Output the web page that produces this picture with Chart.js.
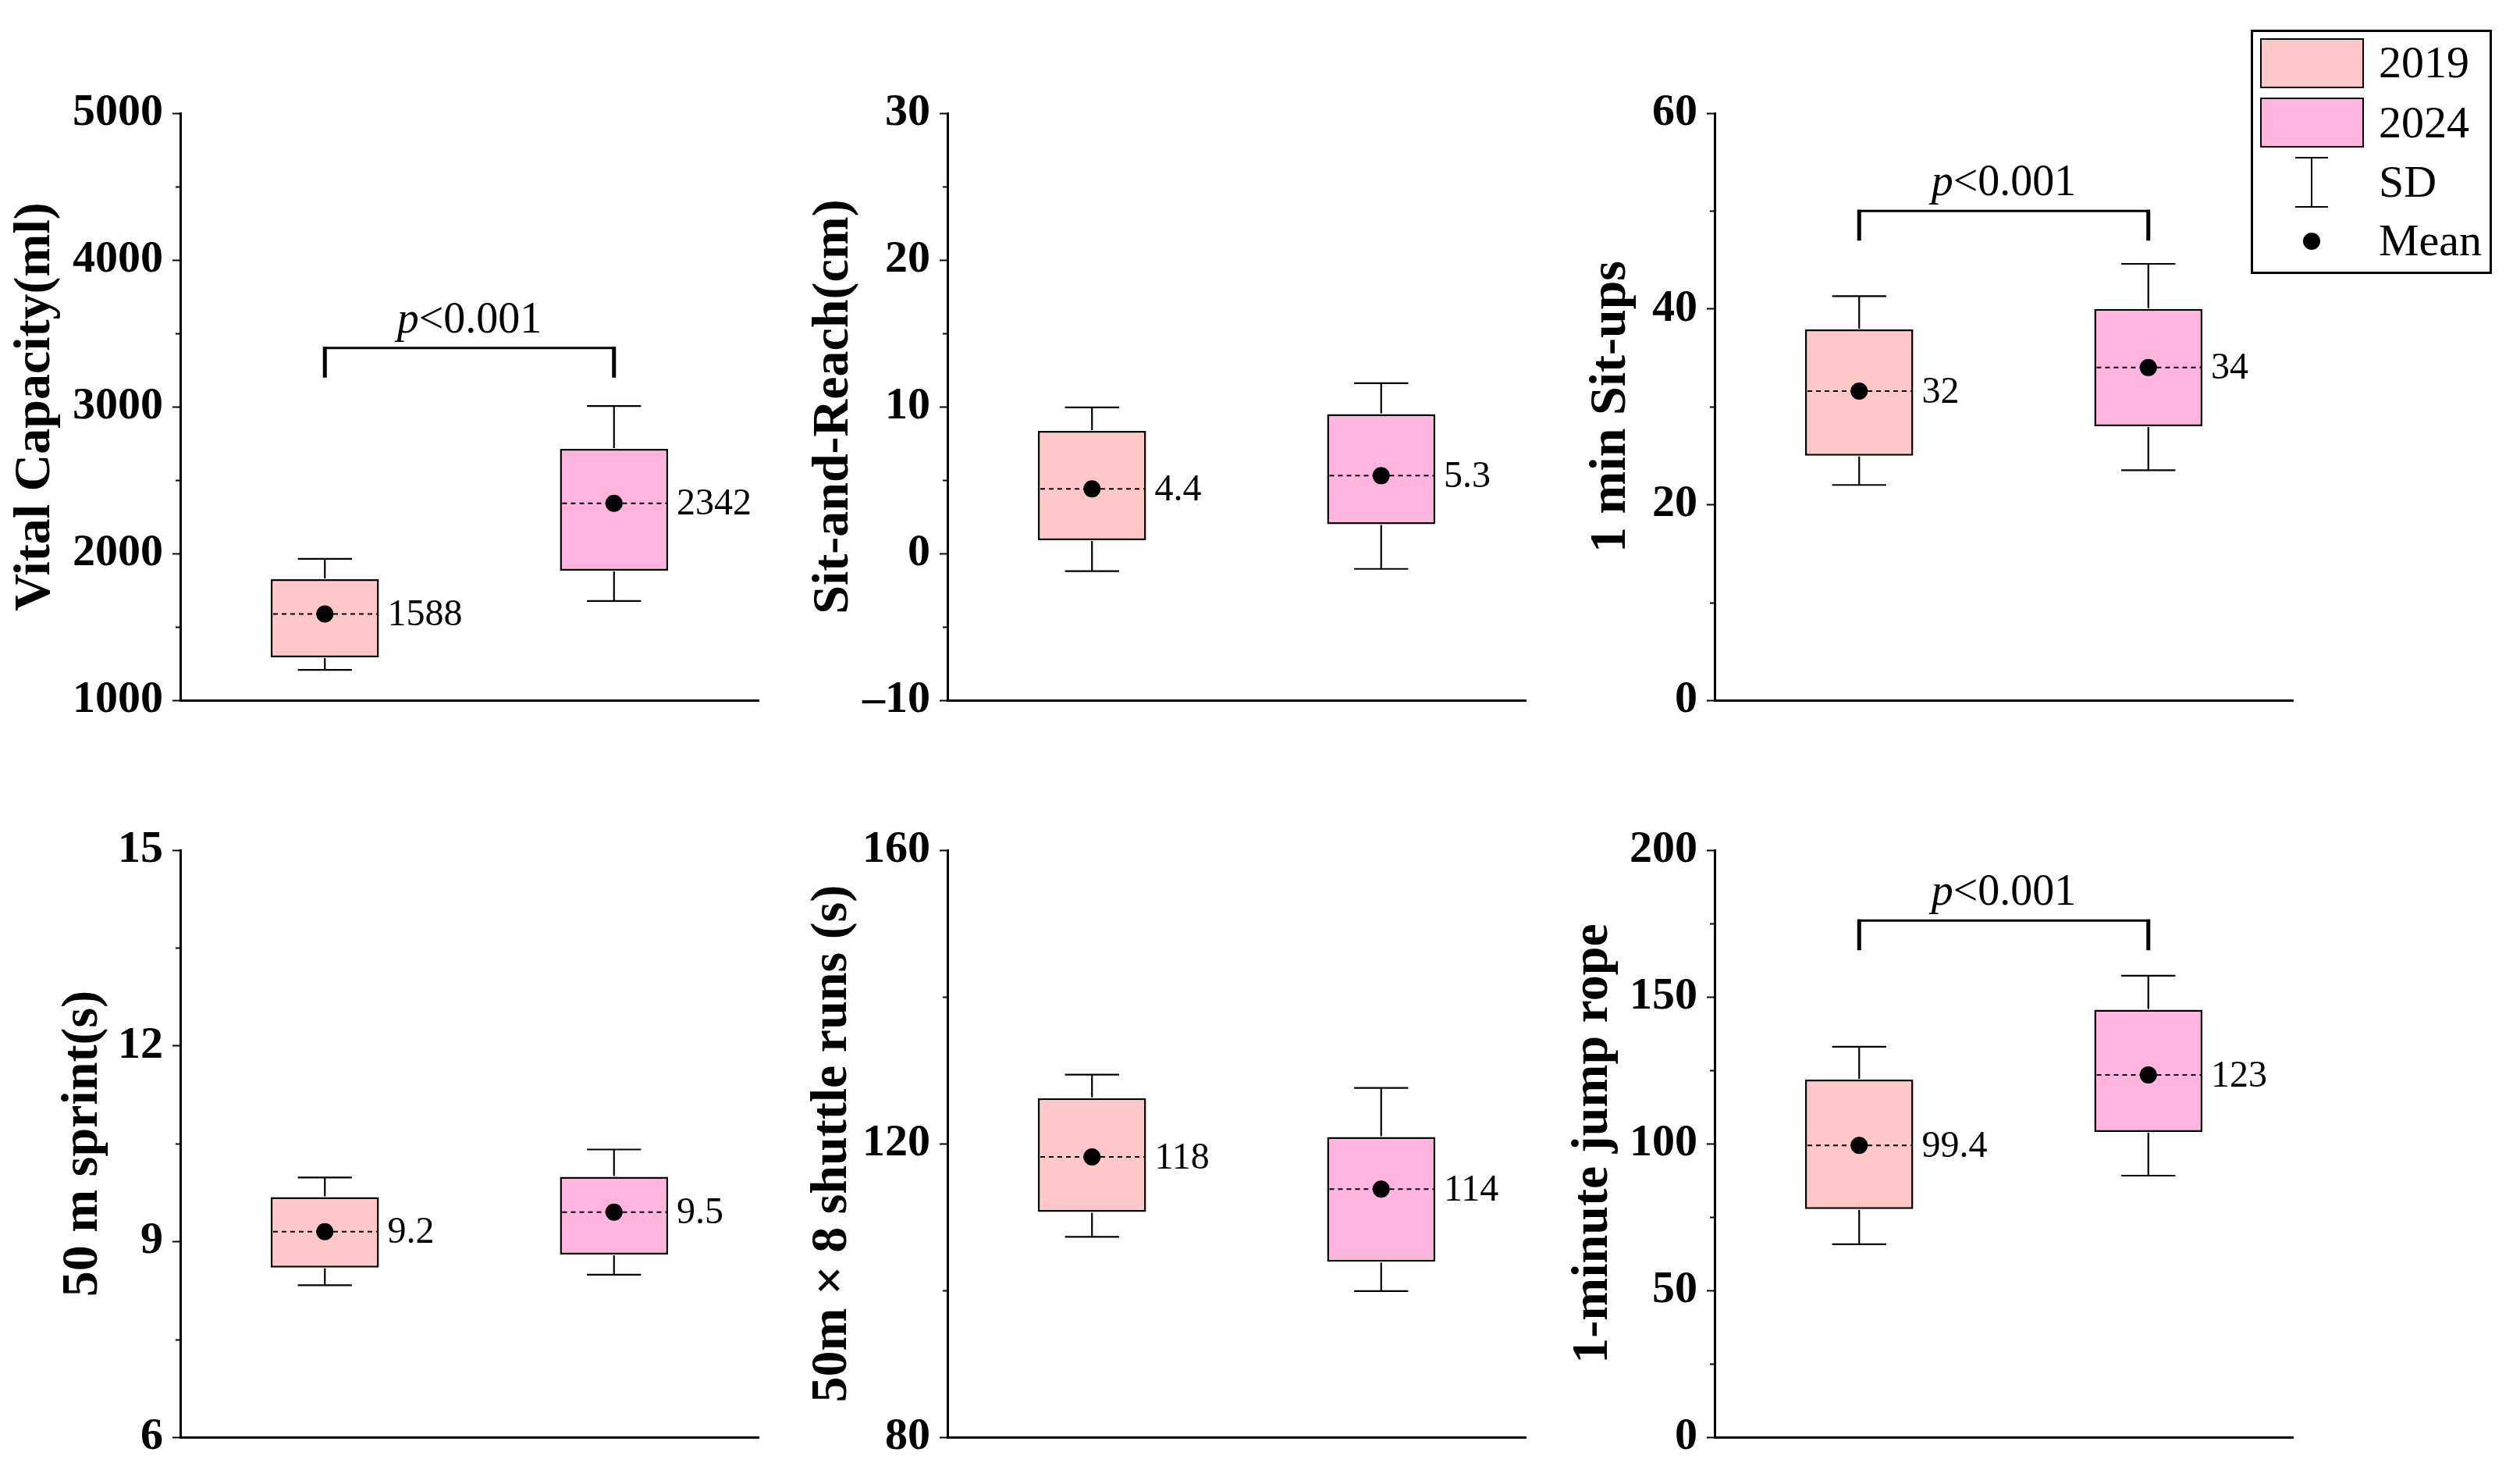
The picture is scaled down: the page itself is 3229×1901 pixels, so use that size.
<!DOCTYPE html>
<html>
<head>
<meta charset="utf-8">
<script src="https://cdn.jsdelivr.net/npm/chart.js@4.4.0/dist/chart.umd.min.js"></script>
<style>
    html, body { margin: 0; padding: 0; background: #fff; }
    body { width: 3229px; height: 1901px; position: relative; overflow: hidden; font-family: "Liberation Serif", "Times New Roman", serif; }
    canvas.panel { position: absolute; }
    #legend { position: absolute; left: 2884px; top: 38px; width: 309px; height: 313px; box-sizing: border-box; border: 3px solid #000; background: #fff; z-index: 5; }
    #legend .sw { position: absolute; left: 9px; width: 133px; height: 64px; box-sizing: border-box; border: 2px solid #000; }
    #legend .txt { position: absolute; left: 161px; font-size: 58px; line-height: 58px; color: #000; white-space: nowrap; }
    #legend .ln { position: absolute; background: #000; }
    #legend .dot { position: absolute; left: 64px; top: 257px; width: 22px; height: 22px; border-radius: 50%; background: #000; }
</style>
</head>
<body>

<canvas class="panel" id="c0" width="983" height="950" style="left:0px;top:0px"></canvas>
<canvas class="panel" id="c1" width="983" height="950" style="left:983px;top:0px"></canvas>
<canvas class="panel" id="c2" width="983" height="950" style="left:1966px;top:0px"></canvas>
<canvas class="panel" id="c3" width="983" height="950" style="left:0px;top:944px"></canvas>
<canvas class="panel" id="c4" width="983" height="950" style="left:983px;top:944px"></canvas>
<canvas class="panel" id="c5" width="983" height="950" style="left:1966px;top:944px"></canvas>

<div id="legend">
    <div class="sw" style="top:8px;background:#FFC8C8"></div>
    <div class="txt" style="top:10px">2019</div>
    <div class="sw" style="top:84px;background:#FFB5DE"></div>
    <div class="txt" style="top:87px">2024</div>
    <div class="ln" style="left:74px;top:161px;width:2px;height:63px"></div>
    <div class="ln" style="left:54px;top:160px;width:42px;height:2px"></div>
    <div class="ln" style="left:54px;top:223px;width:42px;height:2px"></div>
    <div class="txt" style="top:163px">SD</div>
    <div class="dot"></div>
    <div class="txt" style="top:238px">Mean</div>
</div>

<script>
// Fitness test results, 2019 vs 2024

const years = ['2019', '2024'];
const yearColors = ['#FFC8C8', '#FFB5DE'];

const panelTitles = [
    'Vital Capacity(ml)', 'Sit-and-Reach(cm)', '1 min Sit-ups',
    '50 m sprint(s)', '50m \u00d7 8 shuttle runs (s)', '1-minute jump rope'
];

// axis ranges and major tick step
const yMin = [1000, -10, 0, 6, 80, 0];
const yMax = [5000, 30, 60, 15, 160, 200];
const yStep = [1000, 10, 20, 3, 40, 50];

// box bottom / top
const boxLow = [[1293, 1883], [0.9, 2.0], [25.0, 28.0], [8.60, 8.80], [110.7, 103.9], [77.7, 104.0]];
const boxHigh = [[1824, 2713], [8.35, 9.5], [37.9, 40.0], [9.68, 9.99], [126.2, 120.9], [121.8, 145.6]];

// SD whiskers
const sdLow = [[1207, 1676], [-1.2, -1.05], [22.0, 23.5], [8.33, 8.49], [107.3, 99.9], [65.7, 89.1]];
const sdHigh = [[1963, 3005], [9.95, 11.6], [41.3, 44.6], [9.98, 10.41], [129.4, 127.6], [133.0, 157.2]];

// means and their printed labels
const meanVals = [[1588, 2342], [4.4, 5.3], [31.6, 34.0], [9.15, 9.45], [118.2, 113.8], [99.4, 123.4]];
const meanLabels = [['1588', '2342'], ['4.4', '5.3'], ['32', '34'], ['9.2', '9.5'], ['118', '114'], ['99.4', '123']];

// significance bracket level (null = none)
const bracketLevel = [3400, null, 50, null, null, 176];
const pItalic = 'p';
const pRest = '<0.001';

// layout only: gap between y title and canvas edge
const titlePad = [13, 53, 66, 74, 51, 43];

const FONT = '"Liberation Serif", "Times New Roman", serif';

function isMajor(i, v) {
    const k = (v - yMin[i]) / yStep[i];
    return Math.abs(k - Math.round(k)) < 1e-6;
}

const boxExtras = {
    id: 'boxExtras',
    afterDatasetDraw(chart, args) {
        if (args.index !== 1) return;
        const i = chart.options.plugins.boxExtras.panel;
        const ctx = chart.ctx;
        const y = chart.scales.y;
        const meta = chart.getDatasetMeta(1);
        meta.data.forEach((bar, j) => {
            const x = bar.x;
            const half = bar.width / 2;
            const top = y.getPixelForValue(boxHigh[i][j]);
            const bot = y.getPixelForValue(boxLow[i][j]);
            const wHi = y.getPixelForValue(sdHigh[i][j]);
            const wLo = y.getPixelForValue(sdLow[i][j]);
            ctx.save();
            ctx.strokeStyle = '#000';
            ctx.lineWidth = 2.2;
            ctx.beginPath();
            ctx.moveTo(x, top - 1); ctx.lineTo(x, wHi);
            ctx.moveTo(x - half / 2, wHi); ctx.lineTo(x + half / 2, wHi);
            ctx.moveTo(x, bot + 1); ctx.lineTo(x, wLo);
            ctx.moveTo(x - half / 2, wLo); ctx.lineTo(x + half / 2, wLo);
            ctx.stroke();
            // dashed mean line
            const m = y.getPixelForValue(meanVals[i][j]);
            ctx.lineWidth = 2;
            ctx.setLineDash([6, 5]);
            ctx.beginPath();
            ctx.moveTo(x - half + 3, m);
            ctx.lineTo(x + half - 2, m);
            ctx.stroke();
            ctx.restore();
        });
    },
    afterDraw(chart) {
        const i = chart.options.plugins.boxExtras.panel;
        const ctx = chart.ctx;
        const y = chart.scales.y;
        const meta = chart.getDatasetMeta(1);
        ctx.save();

        // minor ticks
        ctx.strokeStyle = '#000';
        ctx.lineWidth = 2;
        for (let v = yMin[i] + yStep[i] / 2; v < yMax[i]; v += yStep[i]) {
            const py = Math.round(y.getPixelForValue(v)) + 0.5;
            ctx.beginPath();
            ctx.moveTo(chart.chartArea.left - 6, py);
            ctx.lineTo(chart.chartArea.left, py);
            ctx.stroke();
        }

        // mean labels
        ctx.fillStyle = '#000';
        ctx.font = '48px ' + FONT;
        ctx.textAlign = 'left';
        ctx.textBaseline = 'middle';
        meta.data.forEach((bar, j) => {
            const m = y.getPixelForValue(meanVals[i][j]);
            ctx.fillText(meanLabels[i][j], bar.x + bar.width / 2 + 11, m + 2);
        });

        // significance bracket
        if (bracketLevel[i] !== null) {
            const x0 = meta.data[0].x;
            const x1 = meta.data[1].x;
            const yb = y.getPixelForValue(bracketLevel[i]);
            ctx.lineWidth = 3;
            ctx.beginPath();
            ctx.moveTo(x0 - 2, yb);
            ctx.lineTo(x1 + 2, yb);
            ctx.stroke();
            ctx.lineWidth = 5;
            ctx.beginPath();
            ctx.moveTo(x0, yb - 1.5);
            ctx.lineTo(x0, yb + 38);
            ctx.moveTo(x1, yb - 1.5);
            ctx.lineTo(x1, yb + 38);
            ctx.stroke();

            const fItal = 'italic 56px ' + FONT;
            const fReg = '56px ' + FONT;
            ctx.font = fItal;
            const w1 = ctx.measureText(pItalic).width;
            ctx.font = fReg;
            const w2 = ctx.measureText(pRest).width;
            const start = (x0 + x1) / 2 - (w1 + w2) / 2;
            ctx.textBaseline = 'alphabetic';
            ctx.font = fItal;
            ctx.fillText(pItalic, start, yb - 20);
            ctx.font = fReg;
            ctx.fillText(pRest, start + w1, yb - 20);
        }
        ctx.restore();
    }
};

function renderPanel(i) {
    const canvas = document.getElementById('c' + i);
    return new Chart(canvas, {
        type: 'bar',
        data: {
            labels: years,
            datasets: [
                {
                    type: 'line',
                    data: meanVals[i],
                    showLine: false,
                    pointRadius: 11,
                    pointHoverRadius: 11,
                    pointBackgroundColor: '#000',
                    pointBorderWidth: 0,
                    order: 0
                },
                {
                    data: years.map((yr, j) => [boxLow[i][j], boxHigh[i][j]]),
                    backgroundColor: yearColors,
                    borderColor: '#000',
                    borderWidth: 2.5,
                    borderSkipped: false,
                    barPercentage: 0.374,
                    categoryPercentage: 1,
                    order: 1
                }
            ]
        },
        options: {
            responsive: false,
            animation: false,
            events: [],
            layout: { padding: { top: 145, bottom: 53, left: 0, right: 4 } },
            plugins: {
                legend: { display: false },
                tooltip: { enabled: false },
                boxExtras: { panel: i }
            },
            scales: {
                x: {
                    type: 'category',
                    offset: true,
                    grid: { display: false, drawTicks: false },
                    border: { display: true, color: '#000', width: 3 },
                    ticks: { display: false },
                    afterFit: s => { s.height = 0; }
                },
                y: {
                    min: yMin[i],
                    max: yMax[i],
                    grid: {
                        display: true,
                        drawOnChartArea: false,
                        drawTicks: true,
                        tickLength: 10,
                        tickWidth: 2,
                        tickColor: c => (c.tick && isMajor(i, c.tick.value)) ? '#000' : 'rgba(0,0,0,0)'
                    },
                    border: { display: true, color: '#000', width: 3 },
                    ticks: {
                        stepSize: yStep[i] / 2,
                        autoSkip: false,
                        padding: 12,
                        color: '#000',
                        font: { family: FONT, size: 58, weight: 'bold' },
                        callback: v => {
                            if (!isMajor(i, v)) return '';
                            return v < 0 ? '\u2013' + Math.abs(v) : String(v);
                        }
                    },
                    title: {
                        display: true,
                        text: panelTitles[i],
                        color: '#000',
                        font: { family: FONT, size: 66, weight: 'bold', lineHeight: 1 },
                        padding: { top: titlePad[i], bottom: 0 }
                    },
                    afterFit: s => { s.width = 231; }
                }
            }
        },
        plugins: [boxExtras]
    });
}

for (let i = 0; i < 6; i++) renderPanel(i);
</script>
</body>
</html>
